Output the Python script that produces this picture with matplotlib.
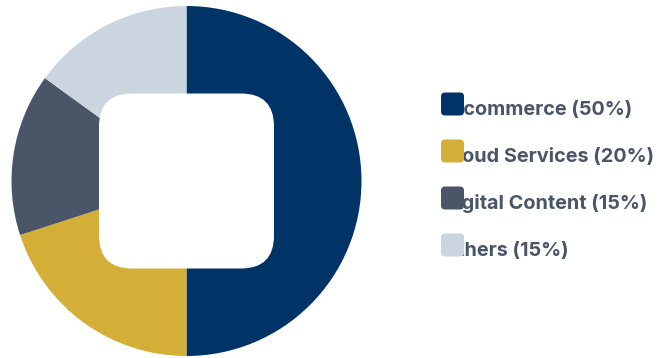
import matplotlib
matplotlib.use("Agg")
import matplotlib.pyplot as plt
from matplotlib.patches import FancyBboxPatch

categories = ["E-commerce", "Cloud Services", "Digital Content", "Others"]
shares = [50, 20, 15, 15]
colors = ["#003366", "#D4AF37", "#4A5568", "#CBD5E0"]
labels = [f"{c} ({v}%)" for c, v in zip(categories, shares)]

W, H = 659, 358
fig = plt.figure(figsize=(W / 100, H / 100), dpi=100)
ax = fig.add_axes([0, 0, 1, 1])

cx, cy, r = 186.5, H - 181, 175
ax.pie(shares, colors=colors, startangle=90, counterclock=False,
       center=(cx, cy), radius=r, wedgeprops=dict(linewidth=0),
       frame=True)
ax.set_xlim(0, W)
ax.set_ylim(0, H)
ax.axis("off")

side = 175
hole = FancyBboxPatch((cx - side / 2, cy - side / 2), side, side,
                      boxstyle="round,pad=0,rounding_size=33",
                      facecolor="white", edgecolor="none", zorder=5)
ax.add_patch(hole)

x0 = 441
row_y = [104, 151, 198, 245]
msz = 23
for lab, col, yy in zip(labels, colors, row_y):
    yc = H - yy
    ax.text(x0 + 1.5, yc - msz / 2 + 0.8, lab, fontsize=14.3, fontweight="bold",
            family="Inter", color="#4A5568", ha="left", va="baseline", zorder=6)
    ax.add_patch(FancyBboxPatch((x0, yc - msz / 2), msz, msz,
                                boxstyle="round,pad=0,rounding_size=4",
                                facecolor=col, edgecolor="none", zorder=7))

fig.savefig("out.png", dpi=100)
